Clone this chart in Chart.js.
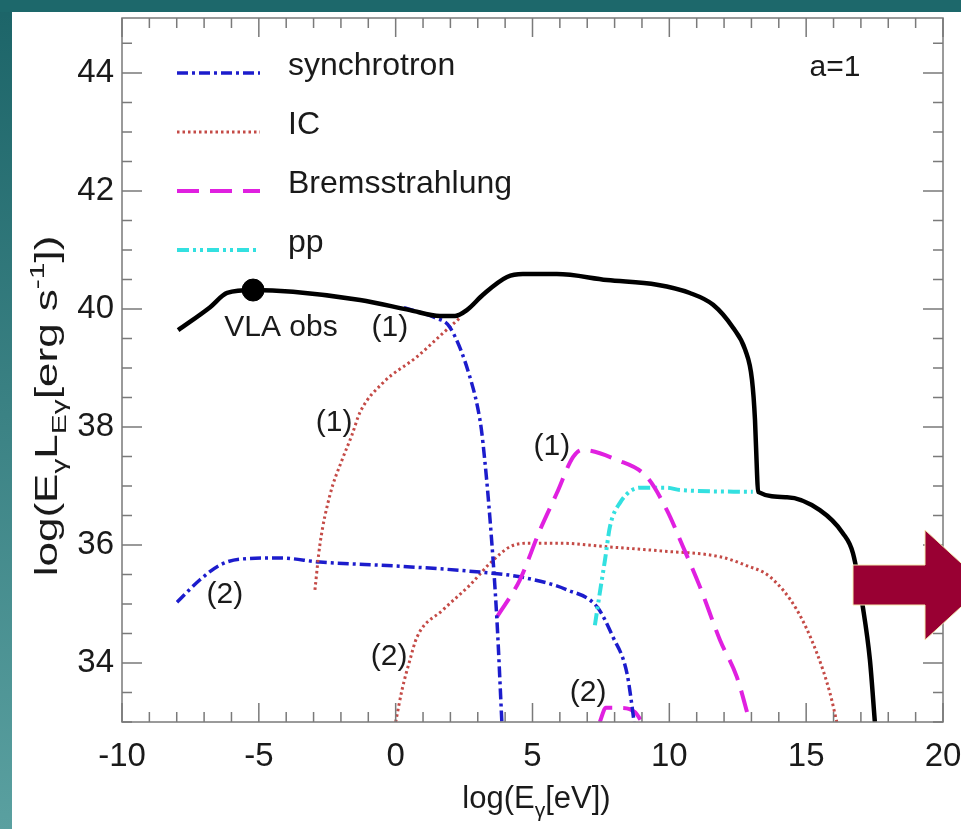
<!DOCTYPE html>
<html>
<head>
<meta charset="utf-8">
<script src="https://cdn.jsdelivr.net/npm/chart.js@4.4.1/dist/chart.umd.min.js"></script>
<style>
  html, body { margin: 0; padding: 0; background: #fff; }
  #wrap { width: 961px; height: 829px; }
</style>
</head>
<body>
<div id="wrap"><canvas id="sed" width="961" height="829"></canvas></div>
<script>
// log(E_gamma [eV]) vs log(E L_E [erg/s])
const totalX = [-7.95, -6.78, -6.16, -5.21, -3.75, -1.30, 0.52, 1.62, 2.17, 2.60, 3.19, 4.07, 4.65, 5.89, 7.72, 9.55, 10.75, 11.60, 12.33, 12.77, 13.02, 13.13, 13.20, 13.24, 14.30, 15.50, 16.34, 16.71, 17.07, 17.33, 17.51];
const totalY = [39.64, 40.03, 40.27, 40.32, 40.29, 40.15, 39.98, 39.88, 39.88, 39.98, 40.24, 40.54, 40.59, 40.59, 40.49, 40.41, 40.27, 40.07, 39.68, 39.31, 38.80, 38.12, 37.27, 36.90, 36.81, 36.59, 36.20, 35.86, 34.95, 34.05, 33.0];

const sync1X = [0.30, 1.44, 1.98, 2.71, 3.08, 3.19, 3.45, 3.70, 3.88];
const sync1Y = [40.02, 39.85, 39.69, 38.85, 38.12, 37.73, 36.42, 34.73, 33.0];
const sync2X = [-7.99, -7.15, -6.42, -5.69, -4.23, -2.77, 0.16, 3.08, 4.54, 6.26, 7.36, 7.94, 8.45, 8.67, 8.71];
const sync2Y = [35.03, 35.41, 35.66, 35.76, 35.78, 35.71, 35.64, 35.54, 35.46, 35.24, 34.95, 34.44, 33.83, 33.15, 33.0];

const ic1X = [-2.95, -2.77, -2.40, -1.96, -1.60, -1.30, -0.46, 0.78, 1.73, 2.35];
const ic1Y = [35.24, 36.00, 36.85, 37.44, 37.86, 38.25, 38.75, 39.19, 39.59, 39.85];
const ic2X = [0.0, 0.23, 0.52, 0.78, 1.73, 2.71, 3.45, 4.18, 4.80, 6.0, 7.72, 9.66, 11.85, 12.77, 13.68, 14.66, 15.39, 15.87, 16.12];
const ic2Y = [33.0, 33.54, 34.05, 34.44, 34.90, 35.32, 35.69, 35.97, 36.03, 36.03, 35.97, 35.90, 35.80, 35.66, 35.46, 34.90, 34.17, 33.49, 33.0];

const brem1X = [3.70, 4.54, 5.27, 5.89, 6.48, 6.81, 8.09, 9.18, 9.91, 10.50, 11.12, 11.85, 12.47, 12.94];
const brem1Y = [34.78, 35.41, 36.25, 36.88, 37.49, 37.61, 37.44, 37.15, 36.59, 35.97, 35.29, 34.39, 33.76, 33.0];
const brem2X = [7.46, 7.68, 8.19, 8.74, 9.0];
const brem2Y = [33.0, 33.24, 33.24, 33.17, 33.0];

const ppX = [7.28, 7.46, 7.65, 7.83, 8.19, 8.93, 9.91, 10.39, 13.05];
const ppY = [34.64, 35.19, 35.75, 36.31, 36.71, 36.97, 36.97, 36.93, 36.90];

const vlaX = [-5.21];
const vlaY = [40.32];

const xTicks = [-10, -5, 0, 5, 10, 15, 20];
const yTicks = [34, 36, 38, 40, 42, 44];

// curve labels: [text, x, y]
const curveLabels = [
  ["VLA obs", -4.19, 39.68],
  ["(1)", -0.21, 39.68],
  ["(1)", -2.25, 38.07],
  ["(1)", 5.71, 37.66],
  ["(2)", -6.24, 35.15],
  ["(2)", -0.24, 34.10],
  ["(2)", 7.03, 33.49],
  ["a=1", 16.05, 44.08]
];

const FONT = '"Liberation Sans", Arial, sans-serif';
const BLUE = '#1c1ccc', RED = '#c44a46', MAGENTA = '#e020e0', CYAN = '#33e0e0';

function pts(xs, ys) {
  return xs.map((x, i) => ({ x: x, y: ys[i] }));
}

function curve(label, xs, ys, color, width, dash, legend) {
  return {
    label: label,
    data: pts(xs, ys),
    borderColor: color,
    borderWidth: width,
    borderDash: dash,
    pointRadius: 0,
    fill: false,
    cubicInterpolationMode: 'monotone',
    inLegend: legend
  };
}

const syncDash = [11, 4, 3, 4];
const icDash = [2.5, 3];
const bremDash = [22, 11];
const ppDash = [12, 4, 3, 4, 3, 4];

// write text with sub/superscripts; parts = [[text, 0|-1|1], ...]
function richWidth(ctx, parts, size) {
  let w = 0;
  parts.forEach(p => {
    ctx.font = (p[1] ? size * 0.68 : size) + 'px ' + FONT;
    w += ctx.measureText(p[0]).width;
  });
  return w;
}
function drawRich(ctx, parts, x, y, size) {
  parts.forEach(p => {
    ctx.font = (p[1] ? size * 0.68 : size) + 'px ' + FONT;
    const dy = p[1] === -1 ? size * 0.28 : (p[1] === 1 ? -size * 0.42 : 0);
    ctx.fillText(p[0], x, y + dy);
    x += ctx.measureText(p[0]).width;
  });
}

const decor = {
  id: 'decor',
  beforeDraw(chart) {
    const ctx = chart.ctx;
    ctx.save();
    const g = ctx.createLinearGradient(0, 0, 0, 829);
    g.addColorStop(0, '#1c6468');
    g.addColorStop(1, '#5aa0a0');
    ctx.fillStyle = g;
    ctx.fillRect(0, 0, 961, 829);
    ctx.fillStyle = '#1d686b';
    ctx.fillRect(0, 0, 961, 12);
    ctx.fillStyle = '#ffffff';
    ctx.fillRect(12, 12, 949, 817);
    ctx.restore();
  },
  afterDraw(chart) {
    const ctx = chart.ctx;
    const a = chart.chartArea;
    const xs = chart.scales.x, ys = chart.scales.y;
    ctx.save();

    // frame + inside ticks
    ctx.strokeStyle = '#7a7a7a';
    ctx.lineWidth = 1.5;
    ctx.strokeRect(a.left, a.top, a.right - a.left, a.bottom - a.top);
    ctx.beginPath();
    for (let v = -10; v <= 20; v++) {
      const px = xs.getPixelForValue(v);
      const len = v % 5 === 0 ? 19 : 10;
      ctx.moveTo(px, a.bottom); ctx.lineTo(px, a.bottom - len);
      ctx.moveTo(px, a.top); ctx.lineTo(px, a.top + len);
    }
    for (let v = 33; v <= 44.9; v += 0.5) {
      const py = ys.getPixelForValue(v);
      const len = (v % 2 === 0) ? 20 : 10;
      ctx.moveTo(a.left, py); ctx.lineTo(a.left + len, py);
      ctx.moveTo(a.right, py); ctx.lineTo(a.right - len, py);
    }
    ctx.stroke();

    // tick labels
    ctx.fillStyle = '#1a1a1a';
    ctx.font = '33px ' + FONT;
    ctx.textBaseline = 'middle';
    ctx.textAlign = 'center';
    xTicks.forEach(v => ctx.fillText(String(v), xs.getPixelForValue(v), a.bottom + 35));
    ctx.textAlign = 'right';
    yTicks.forEach(v => ctx.fillText(String(v), a.left - 8, ys.getPixelForValue(v)));

    // axis titles
    ctx.textAlign = 'left';
    ctx.textBaseline = 'alphabetic';
    const xt = [["log(E", 0], ["\u03b3", -1], ["[eV])", 0]];
    const xw = richWidth(ctx, xt, 31);
    drawRich(ctx, xt, (a.left + a.right) / 2 + 4 - xw / 2, 808, 31);
    const yt = [["log(E", 0], ["\u03b3", -1], ["L", 0], ["E\u03b3", -1], ["[erg s", 0], ["-1", 1], ["])", 0]];
    const yw = richWidth(ctx, yt, 31);
    ctx.save();
    ctx.translate(57, 406);
    ctx.rotate(-Math.PI / 2);
    ctx.scale(1.42, 1);
    drawRich(ctx, yt, -yw / 2, 0, 31);
    ctx.restore();

    // curve labels
    ctx.font = '30px ' + FONT;
    ctx.textAlign = 'center';
    ctx.textBaseline = 'middle';
    curveLabels.forEach(l => ctx.fillText(l[0], xs.getPixelForValue(l[1]), ys.getPixelForValue(l[2])));

    // legend
    const legendItems = chart.data.datasets.filter(d => d.inLegend);
    ctx.font = '32px ' + FONT;
    ctx.textAlign = 'left';
    ctx.textBaseline = 'alphabetic';
    legendItems.forEach((d, i) => {
      const ly = 73 + i * 59;
      ctx.save();
      ctx.strokeStyle = d.borderColor;
      ctx.lineWidth = d.borderWidth;
      ctx.setLineDash(d.borderDash);
      ctx.beginPath();
      ctx.moveTo(177, ly); ctx.lineTo(260, ly);
      ctx.stroke();
      ctx.restore();
      ctx.fillStyle = '#1a1a1a';
      ctx.fillText(d.inLegend, 288, ly + 2);
    });

    // arrow
    ctx.fillStyle = '#990033';
    ctx.strokeStyle = '#f4eab0';
    ctx.lineWidth = 1;
    ctx.beginPath();
    ctx.moveTo(853, 565); ctx.lineTo(925, 565); ctx.lineTo(925, 530);
    ctx.lineTo(985, 585); ctx.lineTo(925, 640); ctx.lineTo(925, 605);
    ctx.lineTo(853, 605); ctx.closePath();
    ctx.fill(); ctx.stroke();
    ctx.restore();
  }
};

const datasets = [
  curve('total', totalX, totalY, '#000000', 4.5, [], null),
  curve('sync1', sync1X, sync1Y, BLUE, 3.5, syncDash, 'synchrotron'),
  curve('ic1', ic1X, ic1Y, RED, 3, icDash, 'IC'),
  curve('brem1', brem1X, brem1Y, MAGENTA, 4, bremDash, 'Bremsstrahlung'),
  curve('pp', ppX, ppY, CYAN, 4, ppDash, 'pp'),
  curve('sync2', sync2X, sync2Y, BLUE, 3.5, syncDash, null),
  curve('ic2', ic2X, ic2Y, RED, 3, icDash, null),
  curve('brem2', brem2X, brem2Y, MAGENTA, 4, bremDash, null),
  {
    label: 'VLA obs',
    data: pts(vlaX, vlaY),
    showLine: false,
    pointRadius: 11,
    pointBackgroundColor: '#000',
    pointBorderColor: '#000'
  }
];

new Chart(document.getElementById('sed'), {
  type: 'line',
  data: { datasets: datasets },
  options: {
    responsive: false,
    animation: false,
    devicePixelRatio: 1,
    layout: { padding: { left: 122, right: 18, top: 18, bottom: 107 } },
    scales: {
      x: { type: 'linear', min: -10, max: 20, display: false },
      y: { type: 'linear', min: 33, max: 44.93, display: false }
    },
    plugins: { legend: { display: false }, tooltip: { enabled: false } }
  },
  plugins: [decor]
});
</script>
</body>
</html>
